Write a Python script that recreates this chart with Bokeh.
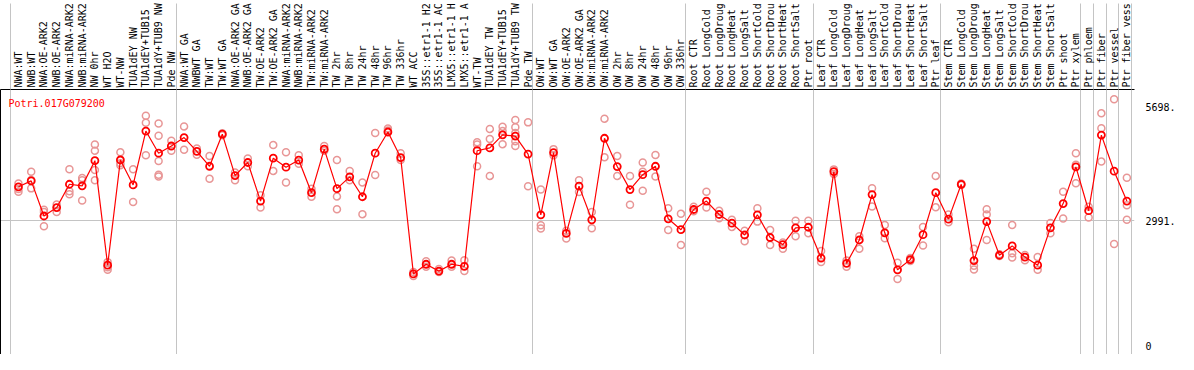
from bokeh.plotting import figure
from bokeh.models import (Range1d, LinearAxis, FixedTicker, Label)
from bokeh.embed import file_html
from bokeh.resources import INLINE

gene = "Potri.017G079200"

labels = [
    "NWA:WT", "NWB:WT", "NWA:OE-ARK2", "NWB:OE-ARK2", "NWA:miRNA-ARK2", "NWB:miRNA-ARK2",
    "NW 0hr", "WT H2O", "WT-NW", "TUA1dEY NW", "TUA1dEY+TUB15", "TUA1dY+TUB9 NW", "Pde NW",
    "NWA:WT GA", "NWBWT GA", "TW:WT", "TW:WT GA", "NWA:OE-ARK2 GA", "NWB:OE-ARK2 GA",
    "TW:OE-ARK2", "TW:OE-ARK2 GA", "NWA:miRNA-ARK2", "NWB:miRNA-ARK2", "TW:miRNA-ARK2",
    "TW:miRNA-ARK2", "TW 2hr", "TW 8hr", "TW 24hr", "TW 48hr", "TW 96hr", "TW 336hr",
    "WT ACC", "35S::etr1-1 H2", "35S::etr1-1 AC", "LMX5::etr1-1 H", "LMX5::etr1-1 A",
    "WT-TW", "TUA1dEY TW", "TUA1dEY+TUB15", "TUA1dY+TUB9 TW", "Pde TW",
    "OW:WT", "OW:WT GA", "OW:OE-ARK2", "OW:OE-ARK2 GA", "OW:miRNA-ARK2", "OW:miRNA-ARK2",
    "OW 2hr", "OW 8hr", "OW 24hr", "OW 48hr", "OW 96hr", "OW 336hr",
    "Root CTR", "Root LongCold", "Root LongDroug", "Root LongHeat", "Root LongSalt",
    "Root ShortCold", "Root ShortDrou", "Root ShortHeat", "Root ShortSalt", "Ptr root",
    "Leaf CTR", "Leaf LongCold", "Leaf LongDroug", "Leaf LongHeat", "Leaf LongSalt",
    "Leaf ShortCold", "Leaf ShortDrou", "Leaf ShortHeat", "Leaf ShortSalt", "Ptr leaf",
    "Stem CTR", "Stem LongCold", "Stem LongDroug", "Stem LongHeat", "Stem LongSalt",
    "Stem ShortCold", "Stem ShortDrou", "Stem ShortHeat", "Stem ShortSalt", "Ptr shoot",
    "Ptr xylem", "Ptr phloem", "Ptr fiber", "Ptr vessel", "Ptr fiber vess",
]

group_sizes = [13, 28, 12, 10, 10, 11, 1, 1, 1, 1]

means = [
    3800, 3940, 3103, 3303, 3860, 3822, 4423, 1930, 4439, 3844, 5129, 4601, 4772,
    4973, 4646, 4289, 5054, 4067, 4379, 3458, 4482, 4267, 4438, 3659, 4698, 3755,
    4037, 3562, 4601, 5106, 4497, 1722, 1952, 1789, 1952, 1900, 4660, 4727, 5039,
    5009, 4579,
    3132, 4616, 2687, 3815, 3013, 4957, 4282, 3733, 4089, 4289, 3036, 2776,
    3258, 3458, 3139, 2932, 2650, 3132, 2590, 2420, 2820, 2835,
    2101, 4163, 1974, 2531, 3614, 2702, 1819, 2063, 2657, 3659,
    3028, 3859, 2041, 2969, 2167, 2390, 2123, 1930, 2820, 3399, 4275,
    3229, 5032, 4171, 3459,
]

replicates = [
    [3880, 3750, 3680], [4156, 3960, 3762], [3250, 3199, 2858], [3377, 3199],
    [4216, 3695, 3622], [4007, 3956, 3473], [4808, 4661, 4200, 3956], [2003, 1819, 1880],
    [4623, 4363, 4312], [4216, 3437], [5492, 5329, 4550], [5307, 5017, 4416, 4089, 4045],
    [4897, 4661],
    [5240, 4683], [4712, 4564], [4534, 3993], [5075, 5030], [4141, 3956], [4475, 4289],
    [3599, 3303], [4794, 4178], [4623, 3904], [4549, 4349], [3755, 3562], [4772, 4660],
    [4438, 3570, 3265], [4178, 3956], [3904, 3147], [5083, 4082], [5187, 5143],
    [4601, 4438], [1767, 1670], [2026, 1893], [1841, 1767], [2041, 1893], [2049, 1789],
    [4861, 4809, 4289], [5180, 4942, 4059], [5232, 5128, 4816],
    [5395, 5217, 5083, 4883, 4772], [5336, 3815],
    [3733, 2880, 2806], [4698, 4549], [2754, 2568], [3956, 3674], [3199, 2813],
    [5425, 4505], [4534, 4059], [4059, 3369], [4379, 4156, 3703], [4557, 4045],
    [3288, 2768], [3154, 2412],
    [3325, 3214], [3681, 3303], [3228, 3050], [3013, 2843], [2754, 2501], [3288, 2969],
    [2768, 2412], [2472, 2323], [2991, 2620], [2991, 2694],
    [2271, 2004], [4215, 4104], [2041, 1893], [2620, 2323], [3763, 3332], [2887, 2575],
    [1989, 1603], [2101, 2030], [2843, 2397], [4059, 3310],
    [3139, 2954], [3880, 3840], [2323, 1915, 1826], [3265, 3139, 2531], [2190, 2150],
    [2887, 2212, 2115], [2175, 2049], [2123, 1819], [2939, 2694], [3681, 3043],
    [4601, 4327, 3882],
    [3325, 3065], [5551, 5195, 4401], [5885, 2435], [4015, 3362, 3013],
]

y_ticks = [0, 2991, 5698]
y_tick_labels = ["0", "2991.", "5698."]
grid_values = [2991]

MONO = "DejaVu Sans Mono"
RED = "#ff0000"
PINK = "#e89696"
GRAY = "#c4c4c4"

xs = list(range(len(labels)))
rep_x = [i for i, reps in enumerate(replicates) for _ in reps]
rep_y = [v for reps in replicates for v in reps]

bounds = [0]
for g in group_sizes:
    bounds.append(bounds[-1] + g)
bound_x = [b - 0.62 for b in bounds]

X_START, X_END = -1.41, 87.6
Y_START, Y_END = -200, 6120
LABEL_BAND = 86
p = figure(width=1178, height=354, output_backend="svg", toolbar_location=None,
           x_range=Range1d(X_START, X_END), y_range=Range1d(Y_START, Y_END),
           x_axis_location=None, y_axis_location=None, min_border=0)
p.outline_line_color = None
p.background_fill_color = "white"
p.border_fill_color = "white"

# grid
p.xgrid.ticker = FixedTicker(ticks=bound_x)
p.xgrid.grid_line_color = GRAY
p.ygrid.ticker = FixedTicker(ticks=grid_values)
p.ygrid.grid_line_color = GRAY

# top category axis; group separators continue up through the label band
top = LinearAxis(ticker=FixedTicker(ticks=xs, minor_ticks=bound_x),
                 major_label_overrides={i: t for i, t in enumerate(labels)},
                 major_label_orientation="vertical",
                 major_label_text_font=MONO, major_label_text_font_size="10px",
                 major_label_text_color="black", major_label_standoff=2 - LABEL_BAND,
                 major_tick_line_color=None, major_tick_out=0, major_tick_in=0,
                 minor_tick_line_color=GRAY, minor_tick_out=LABEL_BAND, minor_tick_in=0,
                 axis_line_color="black")
p.add_layout(top, "above")

# right value axis
right = LinearAxis(ticker=FixedTicker(ticks=y_ticks),
                   major_label_overrides=dict(zip(y_ticks, y_tick_labels)),
                   major_label_text_font=MONO, major_label_text_font_size="10px",
                   major_label_text_color="black", major_label_standoff=5,
                   major_tick_line_color=None, minor_tick_line_color=None,
                   axis_line_color=None)
p.add_layout(right, "right")

# left frame line
left = LinearAxis(ticker=FixedTicker(ticks=[]), major_label_text_font_size="0px",
                  major_label_standoff=0, major_tick_line_color=None,
                  minor_tick_line_color=None, axis_line_color="black")
p.add_layout(left, "left")

p.scatter(rep_x, rep_y, marker="circle", size=7, fill_color=None,
          line_color=PINK, line_width=1.5)
p.line(xs, means, line_color=RED, line_width=1.2)
p.scatter(xs, means, marker="circle", size=7, fill_color=None,
          line_color=RED, line_width=1.8)

p.add_layout(Label(x=X_START, x_units="data", x_offset=8,
                   y=Y_END, y_units="data", y_offset=-14,
                   text=gene, text_font=MONO, text_font_size="10px",
                   text_color=RED, text_baseline="middle"))

open("out.html", "w").write(file_html(p, INLINE))
